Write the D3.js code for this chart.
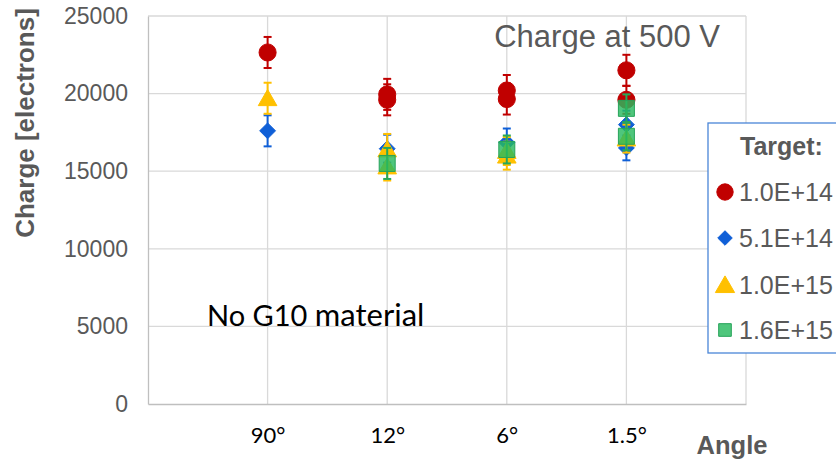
<!DOCTYPE html>
<html><head><meta charset="utf-8">
<script src="https://cdn.jsdelivr.net/npm/d3@7"></script>
<style>body{margin:0;background:#fff}svg{display:block}</style>
</head><body>
<svg id="c" width="836" height="463"></svg>
<script>
const angles = ["90°", "12°", "6°", "1.5°"];
const yTicks = [0, 5000, 10000, 15000, 20000, 25000];
const seriesNames = ["1.0E+14", "5.1E+14", "1.0E+15", "1.6E+15"];
// each point: angle index, charge, error
const redAngle = [0, 1, 1, 2, 2, 3, 3];
const redValue = [22650, 19950, 19600, 20200, 19650, 21500, 19600];
const redError = [1000, 1000, 1000, 1000, 1000, 1000, 900];
const blueAngle = [0, 1, 2, 3, 3];
const blueValue = [17600, 16450, 16850, 18000, 16500];
const blueError = [1000, 900, 900, 900, 800];
const yellowAngle = [0, 1, 1, 2, 2, 3];
const yellowValue = [19700, 16400, 15300, 16000, 16300, 17100];
const yellowError = [1000, 1000, 900, 900, 900, 900];
const greenAngle = [1, 2, 3, 3];
const greenValue = [15500, 16400, 19050, 17250];
const greenError = [1000, 900, 900, 900];

const series = [
  {name: seriesNames[0], color: "#C00000", stroke: "#C00000", fill: "#C00000", sym: d3.symbolCircle, size: 230, angle: redAngle, value: redValue, error: redError},
  {name: seriesNames[1], color: "#0F5FD7", stroke: "#0F5FD7", fill: "#0F5FD7", sym: d3.symbolDiamond2, size: 160, angle: blueAngle, value: blueValue, error: blueError},
  {name: seriesNames[2], color: "#FFC000", stroke: "#FFC000", fill: "#FFC000", sym: d3.symbolTriangle, size: 150, angle: yellowAngle, value: yellowValue, error: yellowError},
  {name: seriesNames[3], color: "#27A85A", stroke: "#27A35A", fill: "rgba(40,185,95,0.82)", sym: d3.symbolSquare, size: 256, angle: greenAngle, value: greenValue, error: greenError}
];

const svg = d3.select("#c");
const x = d3.scaleLinear().domain([0, 5]).range([148, 746]);
const y = d3.scaleLinear().domain([0, 25000]).range([404, 16]);

// gridlines
const grid = svg.append("g");
grid.selectAll("line.h").data(yTicks.slice(1)).join("line")
  .attr("x1", x(0)).attr("x2", x(5)).attr("y1", d => y(d)).attr("y2", d => y(d))
  .attr("stroke", "#D9D9D9").attr("stroke-width", 1.3);
grid.selectAll("line.v").data([1, 2, 3, 4, 5]).join("line")
  .attr("x1", d => x(d)).attr("x2", d => x(d)).attr("y1", y(0)).attr("y2", y(25000))
  .attr("stroke", "#D9D9D9").attr("stroke-width", 1.3);

// axes
const yAxis = d3.axisLeft(y).tickValues(yTicks).tickFormat(d3.format("d")).tickSize(0).tickPadding(20);
const gy = svg.append("g").attr("transform", `translate(${x(0)},0)`).call(yAxis);
gy.select(".domain").attr("stroke", "#BFBFBF").attr("stroke-width", 1.3);
gy.selectAll("text").attr("font-family", "Liberation Sans, Arial, sans-serif").attr("font-size", 23).attr("fill", "#595959");

const xAxis = d3.axisBottom(x).tickValues([1, 2, 3, 4]).tickFormat(d => angles[d - 1]).tickSize(0).tickPadding(19);
const gx = svg.append("g").attr("transform", `translate(0,${y(0)})`).call(xAxis);
gx.select(".domain").attr("stroke", "#BFBFBF").attr("stroke-width", 1.3);
gx.selectAll("text").attr("font-family", "Lato, Carlito, Calibri, sans-serif").attr("font-size", 22).attr("fill", "#000").attr("dy", "0.9em");

// titles
svg.append("text").attr("transform", `translate(34,123) rotate(-90)`).attr("text-anchor", "middle")
  .attr("font-family", "Liberation Sans, Arial, sans-serif").attr("font-weight", "bold").attr("font-size", 26).attr("fill", "#595959")
  .text("Charge [electrons]");
svg.append("text").attr("x", 732).attr("y", 454).attr("text-anchor", "middle")
  .attr("font-family", "Liberation Sans, Arial, sans-serif").attr("font-weight", "bold").attr("font-size", 25.5).attr("fill", "#595959")
  .text("Angle");
svg.append("text").attr("x", 720).attr("y", 47).attr("text-anchor", "end")
  .attr("font-family", "Liberation Sans, Arial, sans-serif").attr("font-size", 31).attr("fill", "#595959")
  .text("Charge at 500 V");
const note = svg.append("text").attr("x", 207).attr("y", 326)
  .attr("font-family", "Lato, Carlito, Calibri, sans-serif").attr("font-size", 29).attr("fill", "#000");
note.append("tspan").text("No G10 ");
note.append("tspan").attr("font-size", 31).text("material");

// data
series.forEach(s => {
  const pts = s.angle.map((a, i) => ({a: a + 1, v: s.value[i], e: s.error[i]}));
  const g = svg.append("g");
  g.selectAll("line.bar").data(pts).join("line")
    .attr("x1", d => x(d.a)).attr("x2", d => x(d.a)).attr("y1", d => y(d.v + d.e)).attr("y2", d => y(d.v - d.e))
    .attr("stroke", s.color).attr("stroke-width", 2);
  g.selectAll("line.capt").data(pts).join("line")
    .attr("x1", d => x(d.a) - 4).attr("x2", d => x(d.a) + 4).attr("y1", d => y(d.v + d.e)).attr("y2", d => y(d.v + d.e))
    .attr("stroke", s.color).attr("stroke-width", 2);
  g.selectAll("line.capb").data(pts).join("line")
    .attr("x1", d => x(d.a) - 4).attr("x2", d => x(d.a) + 4).attr("y1", d => y(d.v - d.e)).attr("y2", d => y(d.v - d.e))
    .attr("stroke", s.color).attr("stroke-width", 2);
  g.selectAll("path").data(pts).join("path")
    .attr("d", d3.symbol().type(s.sym).size(s.size))
    .attr("transform", d => `translate(${x(d.a)},${y(d.v) + (s.sym === d3.symbolTriangle ? 2 : 0)})`)
    .attr("fill", s.fill).attr("stroke", s.stroke).attr("stroke-width", 1);
});

// legend
const lg = svg.append("g");
lg.append("rect").attr("x", 708).attr("y", 123).attr("width", 140).attr("height", 230)
  .attr("fill", "#fff").attr("stroke", "#4A86D8").attr("stroke-width", 1.3);
lg.append("text").attr("x", 740).attr("y", 155)
  .attr("font-family", "Liberation Sans, Arial, sans-serif").attr("font-weight", "bold").attr("font-size", 25).attr("fill", "#595959")
  .text("Target:");
const legY = [192, 238, 285, 330];
const legSize = [210, 135, 160, 160];
series.forEach((s, i) => {
  lg.append("path").attr("d", d3.symbol().type(s.sym).size(legSize[i]))
    .attr("transform", `translate(725,${legY[i] + (s.sym === d3.symbolTriangle ? 2 : 0)})`)
    .attr("fill", s.fill).attr("stroke", s.stroke).attr("stroke-width", 1);
  lg.append("text").attr("x", 739).attr("y", legY[i] + 9)
    .attr("font-family", "Liberation Sans, Arial, sans-serif").attr("font-size", 25).attr("fill", "#595959")
    .text(s.name);
});
</script>
</body></html>
